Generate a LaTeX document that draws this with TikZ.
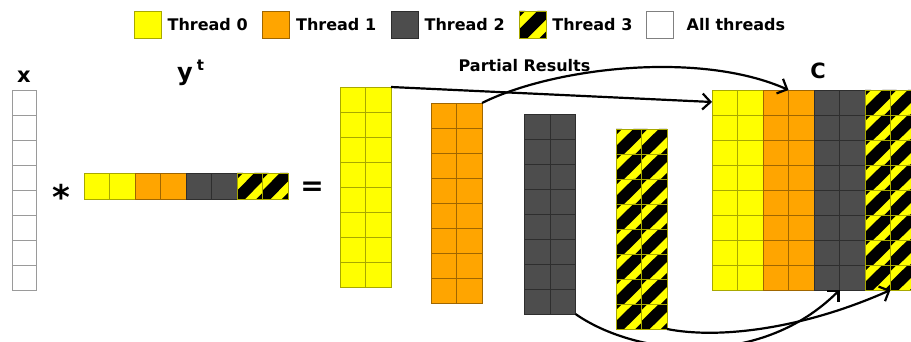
\documentclass[tikz,border=0pt]{standalone}
\usepackage{fontspec}
\setmainfont{DejaVu Sans}
\usetikzlibrary{calc,positioning,arrows.meta}
\definecolor{thyellow}{HTML}{FFFF00}
\definecolor{thyellowd}{HTML}{A8A800}
\definecolor{thorange}{HTML}{FFA500}
\definecolor{thoranged}{HTML}{A06600}
\definecolor{thgray}{HTML}{4D4D4D}
\definecolor{thgrayd}{HTML}{2E2E2E}
\definecolor{allgray}{HTML}{9A9A9A}
\newcommand{\cw}{25.5}
\newcommand{\ch}{25}
\newcommand{\hatchcell}[4]{%
  \begin{scope}[shift={(#1,#2)}]
    \fill[thyellow] (0,0) rectangle (#3,#4);
    \fill[black] (0,0) -- (0.24*#3,0) -- (0,0.24*#4) -- cycle;
    \fill[black] (0.68*#3,0) -- (#3,0) -- (#3,0.32*#4) -- (0.32*#3,#4) -- (0,#4) -- (0,0.68*#4) -- cycle;
    \fill[black] (#3,0.76*#4) -- (#3,#4) -- (0.76*#3,#4) -- cycle;
    \draw[thyellowd,line width=0.9pt] (0,0) rectangle (#3,#4);
  \end{scope}}
\begin{document}
\begin{tikzpicture}[x=1pt,y=-1pt,
  lbl/.style={font=\bfseries\fontsize{16}{19}\selectfont,inner sep=0pt},
  big/.style={font=\bfseries\fontsize{#1}{#1}\selectfont,inner sep=0pt},
  t0/.style={fill=thyellow,draw=thyellowd,line width=0.9pt},
  t1/.style={fill=thorange,draw=thoranged,line width=0.9pt},
  t2/.style={fill=thgray,draw=thgrayd,line width=0.9pt},
  allc/.style={fill=white,draw=allgray,line width=0.9pt},
  key/.style={minimum size=27pt,inner sep=0pt},
  blk/.style={inner sep=0pt,outer sep=0pt},
  arr/.style={line width=2.2pt,-{Straight Barb[length=8pt,width=16pt]}}]
\useasboundingbox (0,0) rectangle (911,342);

% legend
\node[key,t0] (k0) at (147.5,24.5) {};
\node[lbl,right=6pt of k0] (l0) {Thread 0};
\node[key,t1] (k1) at (276,24.5) {};
\node[lbl,right=6pt of k1] (l1) {Thread 1};
\node[key,t2] (k2) at (404.5,24.5) {};
\node[lbl,right=6pt of k2] (l2) {Thread 2};
\hatchcell{519}{11}{27}{27}
\node[key] (k3) at (532.5,24.5) {};
\node[lbl,right=6pt of k3] (l3) {Thread 3};
\node[key,allc,draw=gray] (k4) at (659.5,24.5) {};
\node[lbl,right=13pt of k4] (l4) {All threads};

% x and y^t
\foreach \j in {0,...,7}
  \draw[allc] (12,{90+\ch*\j}) rectangle ++(24,\ch);
\node[blk,minimum width=24pt,minimum height=200pt] (xv) at (24,190) {};
\foreach \i/\s in {0/t0,1/t0,2/t1,3/t1,4/t2,5/t2}
  \draw[\s] ({84+\cw*\i},173) rectangle ++(\cw,26);
\foreach \i in {6,7} {
  \hatchcell{84+\cw*\i}{173}{\cw}{26}
}
\node[blk,minimum width=204pt,minimum height=26pt] (yv) at (186,186) {};
\node[big=21,above=7pt of xv] (xl) {x};
\node[big=24,anchor=base west] (yl) at (177,80.5) {y\hspace{4pt}\raisebox{10pt}{\fontsize{15}{15}\selectfont t}};
\node[big=34,anchor=base] (times) at (61,209) {*};
\node[big=28,anchor=base] (eq) at (312,196) {=};

% partial results
\foreach \i in {0,1} {
  \foreach \j in {0,...,7} {
    \draw[t0] ({340+\cw*\i},{87+\ch*\j}) rectangle ++(\cw,\ch);
    \draw[t1] ({431+\cw*\i},{103+\ch*\j}) rectangle ++(\cw,\ch);
    \draw[t2] ({524.5+\cw*\i},{114+\ch*\j}) rectangle ++(\cw,\ch);
    \hatchcell{616+\cw*\i}{129+\ch*\j}{\cw}{\ch}
  }
}
\node[blk,minimum width=51pt,minimum height=200pt] (p0) at (365.5,187) {};
\node[blk,minimum width=51pt,minimum height=200pt] (p1) at (456.5,203) {};
\node[blk,minimum width=51pt,minimum height=200pt] (p2) at (550,214) {};
\node[blk,minimum width=51pt,minimum height=200pt] (p3) at (641.5,229) {};
\node[lbl] (pr) at (524.5,66) {Partial Results};

% C
\foreach \j in {0,...,7} {
  \foreach \i/\s in {0/t0,1/t0,2/t1,3/t1,4/t2,5/t2}
    \draw[\s] ({712+\cw*\i},{90+\ch*\j}) rectangle ++(\cw,\ch);
  \foreach \i in {6,7} {
    \hatchcell{712+\cw*\i}{90+\ch*\j}{\cw}{\ch}
  }
}
\node[blk,minimum width=204pt,minimum height=200pt] (C) at (814,190) {};
\node[big=21] (cl) at (818,70.5) {C};

\draw[arr] (p0.north east) -- ($(C.north west)+(0,12)$);
\draw[arr] (p1.north east) .. controls +(70,-35) and +(-90,-40) .. ($(C.north west)+(76.5,0)$);
\draw[arr] (p2.south east) .. controls +(60,42) and +(-80,80) .. ($(C.south west)+(127.5,0)$);
\draw[arr] (p3.south east) .. controls +(50,10) and +(-90,40) .. ($(C.south west)+(178.5,0)$);
\end{tikzpicture}
\end{document}
